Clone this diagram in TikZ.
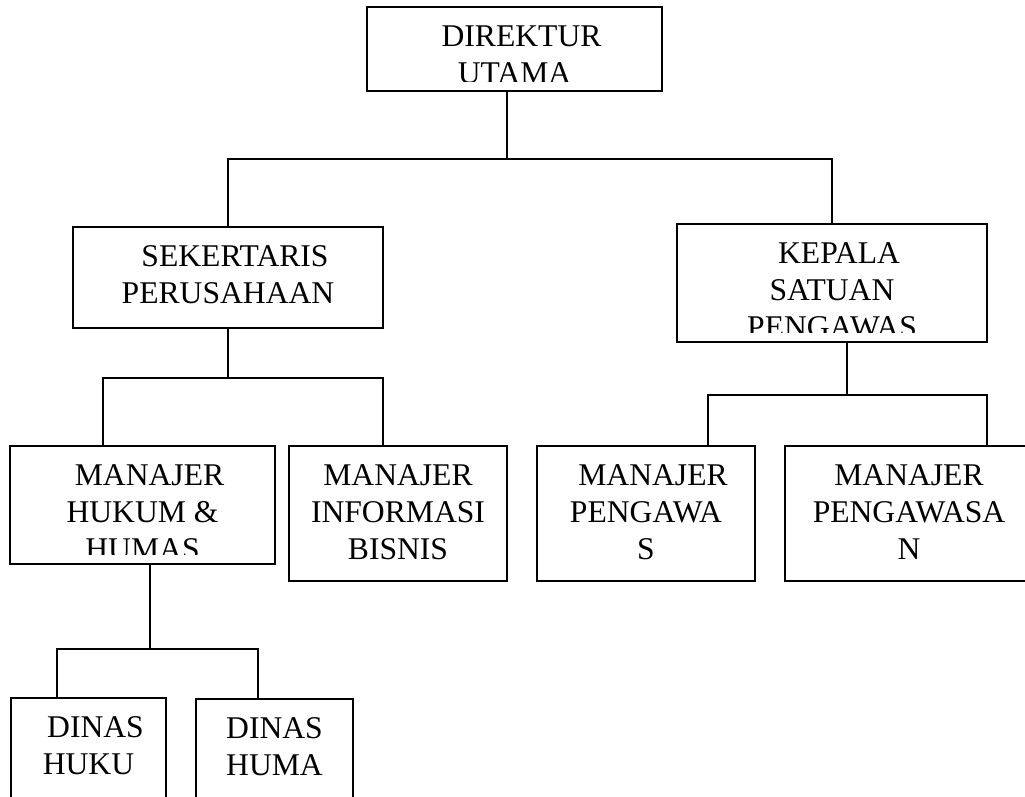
\documentclass[tikz,border=0pt]{standalone}
\usepackage{fontspec}
\setmainfont{Liberation Serif}
\usetikzlibrary{fit}

\newcommand{\geser}{\hspace*{8pt}}
\newcommand{\jabatan}[6]{%
  \node[kotak, fit={(#2,#3) (#4,#5)}] (#1) {};
  \begin{scope}
    \clip (#1.north west) rectangle ([yshift=0.2cm]#1.south east);
    \node[teks] at ([yshift=-0.38cm]#1.north) {#6};
  \end{scope}}

\begin{document}
\begin{tikzpicture}[x=0.02cm, y=-0.02cm,
    kotak/.style={draw, line width=0.75pt, inner sep=0pt},
    teks/.style={anchor=north, inner sep=0pt, align=center,
      font=\fontsize{18}{21}\selectfont},
    garis/.style={line width=0.7pt}]
  \useasboundingbox (0,0) rectangle (1025,796);
  \clip (0,0) rectangle (1025,796);

  \jabatan{direktur}{367}{7}{662}{91}{\geser DIREKTUR\\UTAMA}
  \jabatan{sekretaris}{73}{227}{383}{328}{\geser SEKERTARIS\\PERUSAHAAN}
  \jabatan{kepala}{677}{224}{987}{342}{\geser KEPALA\\SATUAN\\PENGAWAS}
  \jabatan{hukum}{10}{446}{275}{564}{\geser MANAJER\\HUKUM \&\\HUMAS}
  \jabatan{informasi}{289}{446}{507}{581}{MANAJER\\INFORMASI\\BISNIS}
  \jabatan{pengawas}{537}{446}{755}{581}{\geser MANAJER\\PENGAWA\\S}
  \jabatan{pengawasan}{785}{446}{1033}{581}{MANAJER\\PENGAWASA\\N}
  \jabatan{dinashukum}{11}{698}{166}{830}{\geser DINAS\\HUKU}
  \jabatan{dinashumas}{196}{699}{353}{830}{DINAS\\HUMA}

  \coordinate (c1) at (507,159);
  \draw[garis] (direktur.south -| c1) -- (c1);
  \draw[garis] (sekretaris.north) |- (c1) -| (kepala.north);

  \coordinate (c2) at (228,378);
  \coordinate (c2a) at (103,378);
  \coordinate (c2b) at (383,378);
  \draw[garis] (sekretaris.south) -- (c2);
  \draw[garis] (c2a |- hukum.north) -- (c2a) -- (c2b) -- (c2b |- informasi.north);

  \coordinate (c3) at (847,395);
  \coordinate (c3a) at (708,395);
  \coordinate (c3b) at (987,395);
  \draw[garis] (kepala.south -| c3) -- (c3);
  \draw[garis] (c3a |- pengawas.north) -- (c3a) -- (c3b) -- (c3b |- pengawasan.north);

  \coordinate (c4) at (150,649);
  \coordinate (c4a) at (57,649);
  \coordinate (c4b) at (258,649);
  \draw[garis] (hukum.south -| c4) -- (c4);
  \draw[garis] (c4a |- dinashukum.north) -- (c4a) -- (c4b) -- (c4b |- dinashumas.north);
\end{tikzpicture}
\end{document}
